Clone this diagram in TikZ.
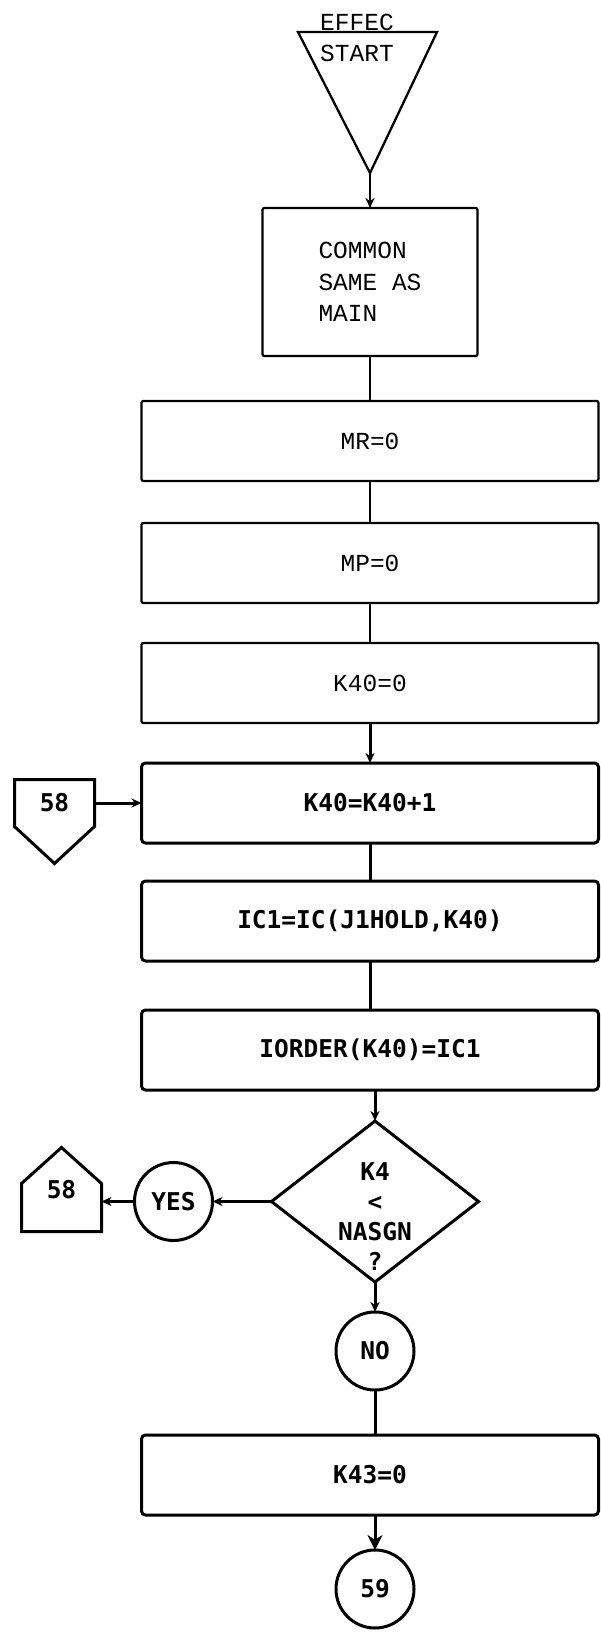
\documentclass[tikz,border=0pt]{standalone}
\usepackage{fontspec}
\setmonofont{Liberation Mono}
\newfontfamily\gothfont{DejaVu Sans Mono}
\usetikzlibrary{positioning,arrows.meta,calc,shapes.geometric}
\newcommand{\oldtype}{\ttfamily\fontsize{24.5}{31.5}\selectfont}
\newcommand{\newtype}{\gothfont\bfseries\fontsize{24.5}{30}\selectfont}
\tikzset{
  box-old/.style={draw,line width=2.3pt,rounded corners=2pt,minimum width=457pt,
    minimum height=80pt,inner sep=0pt,outer sep=0pt,font=\oldtype},
  box-new/.style={box-old,line width=3pt,rounded corners=4pt,font=\newtype},
  node-conn/.style={circle,draw,line width=3pt,minimum size=78pt,inner sep=0pt,
    outer sep=0pt,font=\newtype},
  node-off/.style={minimum width=80pt,inner sep=0pt,outer sep=0pt,font=\newtype},
  node-test/.style={diamond,draw,line width=3pt,minimum width=207pt,
    minimum height=161pt,inner sep=0pt,outer sep=0pt},
  line-old/.style={line width=2.3pt},
  line-new/.style={line width=3pt},
  arrow-old/.style={line-old,-{Stealth[length=10pt,width=9pt]}},
  arrow/.style={line-new,-{Stealth[length=10pt,width=9pt]}},
  arrow-big/.style={line-new,-{Stealth[length=15pt,width=15pt]}},
}
\begin{document}
\begin{tikzpicture}[x=1pt,y=-1pt]
  \useasboundingbox (0,0) rectangle (601,1632);
  % entry
  \coordinate (start-tip) at (370,173);
  \draw[line-old] (298,32) -- (437,32) -- (start-tip) -- cycle;
  \node[font=\oldtype,inner sep=0pt] (effec) at (357,22) {EFFEC};
  \node[font=\oldtype,inner sep=0pt] (start) at (357,53) {START};
  \node[box-old,minimum width=215pt,minimum height=148pt,align=left,below=35pt of start-tip] (common) {COMMON\\SAME AS\\MAIN};
  \node[box-old,below=45pt of common] (mr)     {MR=0};
  \node[box-old,below=42pt of mr]     (mp)     {MP=0};
  \node[box-old,below=40pt of mp]     (k40zero){K40=0};
  \node[box-new,below=40pt of k40zero](k40inc) {K40=K40+1};
  \node[box-new,below=38pt of k40inc] (ic1)    {IC1=IC(J1HOLD,K40)};
  \node[box-new,below=49pt of ic1]    (iorder) {IORDER(K40)=IC1};
  \node[node-test,below=31pt of iorder,xshift=5pt] (test) {};
  \node[font=\newtype,align=center,inner sep=0pt] (test-text) at ([yshift=-15pt]test.center) {K4\\<\\NASGN\\?};
  \node[node-conn,left=59pt of test]  (yes)    {YES};
  \node[node-conn,below=30pt of test] (no)     {NO};
  \node[box-new,below=45pt of no,xshift=-5pt] (k43) {K43=0};
  \node[node-conn,below=35pt of k43,xshift=5pt] (c59) {59};
  % off-page connectors
  \node[node-off,minimum height=47pt,left=47pt of k40inc] (p58down) {58};
  \draw[line-new] (p58down.north west) -- (p58down.north east) -- (p58down.south east)
    -- ($(p58down.south)+(0pt,-37pt)$) -- (p58down.south west) -- cycle;
  \node[node-off,minimum height=84pt,left=33pt of yes,yshift=12pt] (p58up) {58};
  \draw[line-new] (p58up.north) -- ($(p58up.north east)+(0pt,-36pt)$) -- (p58up.south east)
    -- (p58up.south west) -- ($(p58up.north west)+(0pt,-36pt)$) -- cycle;
  % flow
  \draw[arrow-old] (start-tip) -- (common);
  \draw[line-old] (common) -- (mr);
  \draw[line-old] (mr) -- (mp);
  \draw[line-old] (mp) -- (k40zero);
  \draw[arrow] (k40zero) -- (k40inc);
  \draw[arrow] (p58down) -- (k40inc);
  \draw[line-new] (k40inc) -- (ic1);
  \draw[line-new] (ic1) -- (iorder);
  \draw[arrow] (iorder.south -| test.north) -- (test.north);
  \draw[arrow] (test) -- (yes);
  \draw[arrow] (yes.west) -- (yes.west -| p58up.east);
  \draw[arrow] (test) -- (no);
  \draw[line-new] (no) -- (no |- k43.north);
  \draw[arrow-big] (k43.south -| c59.north) -- (c59.north);
\end{tikzpicture}
\end{document}
